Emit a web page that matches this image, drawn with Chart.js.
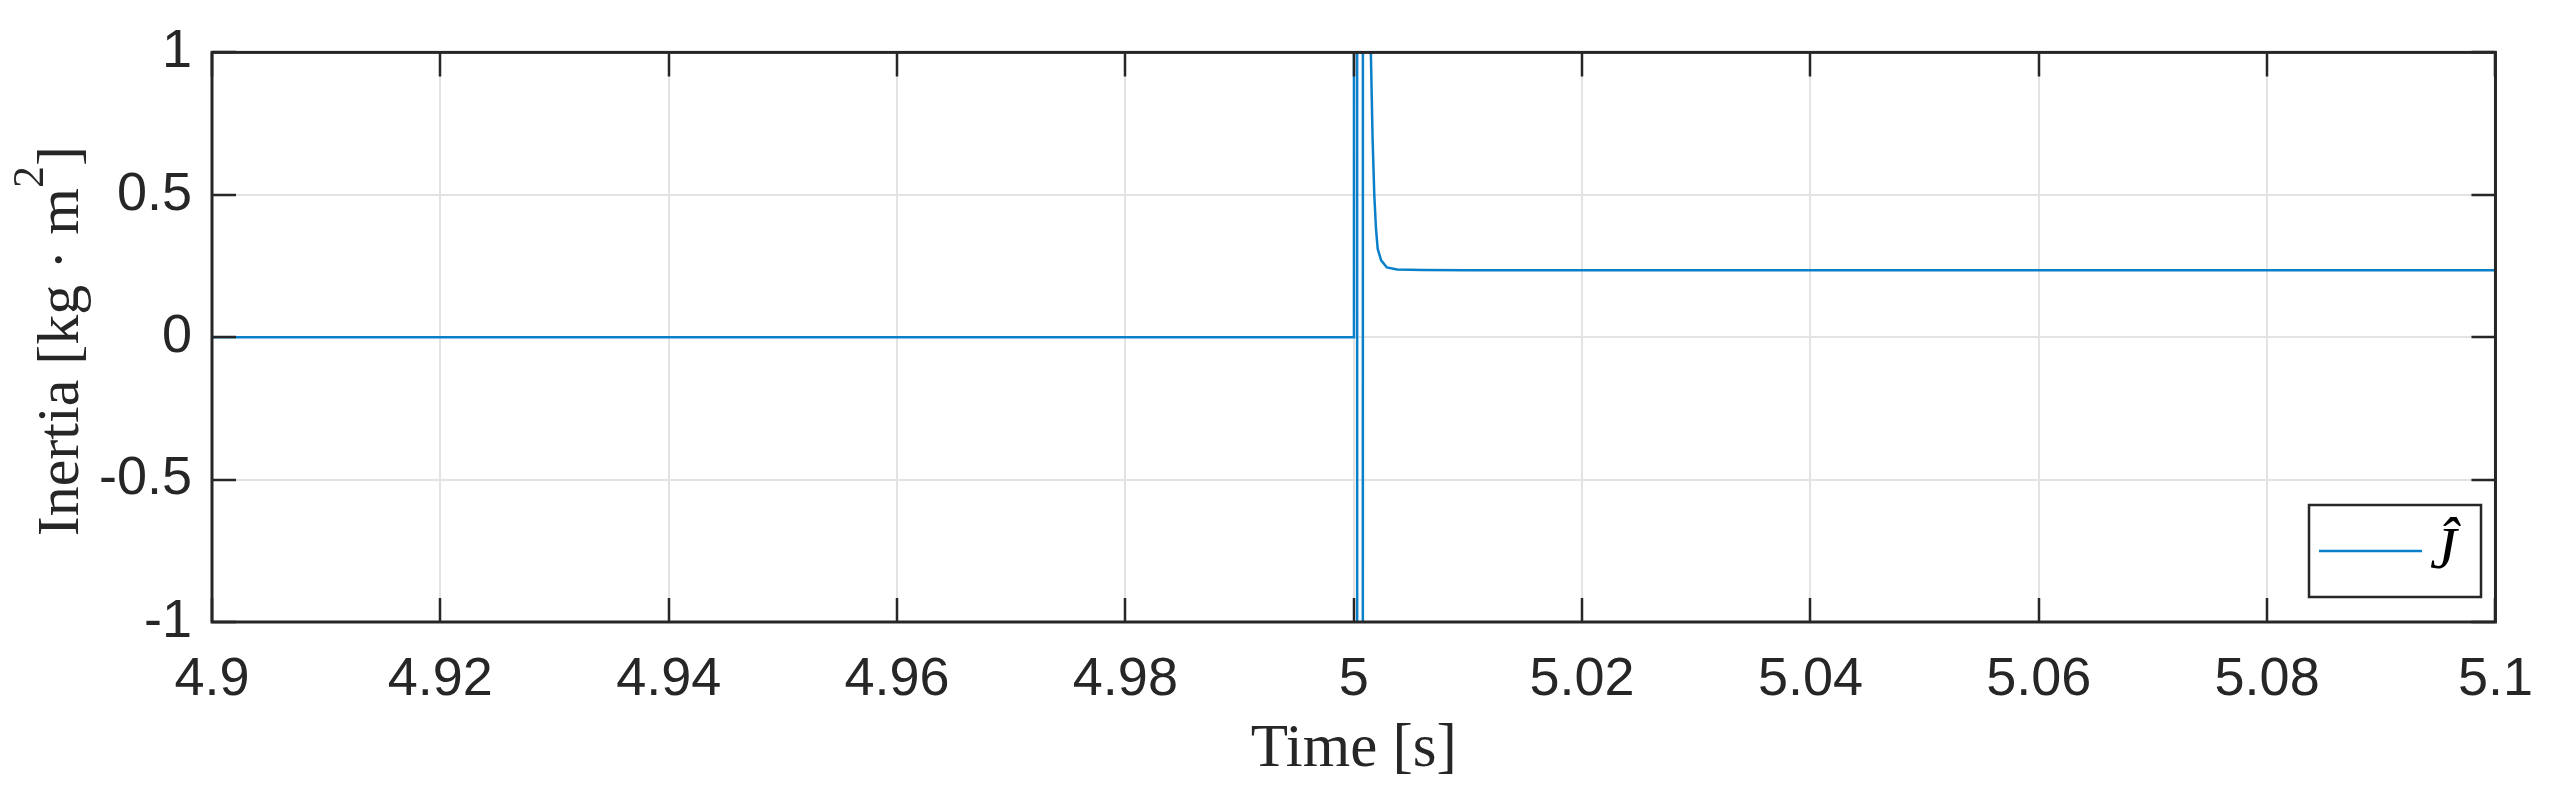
<!DOCTYPE html>
<html>
<head>
<meta charset="utf-8">
<script src="https://cdn.jsdelivr.net/npm/chart.js@4.4.0/dist/chart.umd.min.js"></script>
<style>
  html, body { margin: 0; padding: 0; background: #fff; }
  canvas { display: block; }
</style>
</head>
<body>
<canvas id="inertia" width="2559" height="795"></canvas>
<script>
// Estimated inertia response around the step at t = 5 s
const timeS = [4.9, 5.0, 5.00002, 5.00028, 5.00032, 5.00078, 5.00082, 5.00138,
  5.0015, 5.00165, 5.0018, 5.00195, 5.0021, 5.0024, 5.0029, 5.0038, 5.006, 5.01, 5.1];
const inertia = [0, 0, 9, 9, -9, -9, 9, 1.6,
  1.0, 0.70, 0.50, 0.38, 0.31, 0.27, 0.245, 0.238, 0.236, 0.235, 0.235];
const seriesLabel = "\u0134";
const xTitle = "Time [s]";
const yTitle = ["Inertia [kg \u00b7 m", "2", "]"];

const axisColor = "#262626";
const lineColor = "#0a7fca";

function getPoints(xs, ys) {
  var points = [];
  xs.forEach((x, i) => {
    points.push({x: x, y: ys[i]});
  });
  return points;
}

// box, inward ticks on all four sides, y title and legend (MATLAB look)
const matlabAxes = {
  id: "matlabAxes",
  afterDraw(chart) {
    const ctx = chart.ctx;
    const area = chart.chartArea;
    const xs = chart.scales.x;
    const ys = chart.scales.y;
    const tickLen = 24;
    ctx.save();
    ctx.strokeStyle = axisColor;
    ctx.lineWidth = 2.5;
    ctx.beginPath();
    xs.ticks.forEach((t) => {
      const px = Math.round(xs.getPixelForValue(t.value));
      ctx.moveTo(px, area.bottom); ctx.lineTo(px, area.bottom - tickLen);
      ctx.moveTo(px, area.top); ctx.lineTo(px, area.top + tickLen);
    });
    ys.ticks.forEach((t) => {
      const py = Math.round(ys.getPixelForValue(t.value));
      ctx.moveTo(area.left, py); ctx.lineTo(area.left + tickLen, py);
      ctx.moveTo(area.right, py); ctx.lineTo(area.right - tickLen, py);
    });
    ctx.stroke();
    ctx.lineWidth = 3;
    ctx.strokeRect(area.left, area.top, area.right - area.left, area.bottom - area.top);

    // y title with superscript
    const big = '60px "Liberation Serif"';
    const small = '44px "Liberation Serif"';
    ctx.font = big;
    const w0 = ctx.measureText(yTitle[0]).width;
    const w2 = ctx.measureText(yTitle[2]).width;
    ctx.font = small;
    const w1 = ctx.measureText(yTitle[1]).width;
    const total = w0 + w1 + w2;
    ctx.translate(78, (area.top + area.bottom) / 2 + 4);
    ctx.rotate(-Math.PI / 2);
    ctx.fillStyle = axisColor;
    ctx.textBaseline = "alphabetic";
    ctx.textAlign = "left";
    let pos = -total / 2;
    ctx.font = big;
    ctx.fillText(yTitle[0], pos, 0);
    pos += w0;
    ctx.font = small;
    ctx.fillText(yTitle[1], pos, -35);
    pos += w1;
    ctx.font = big;
    ctx.fillText(yTitle[2], pos, 0);
    ctx.restore();

    // legend box
    const ds = chart.data.datasets[0];
    ctx.save();
    ctx.fillStyle = "#ffffff";
    ctx.fillRect(2309, 505, 172, 92);
    ctx.strokeStyle = axisColor;
    ctx.lineWidth = 2.5;
    ctx.strokeRect(2309, 505, 172, 92);
    ctx.strokeStyle = ds.borderColor;
    ctx.lineWidth = ds.borderWidth;
    ctx.beginPath();
    ctx.moveTo(2319, 551);
    ctx.lineTo(2422, 551);
    ctx.stroke();
    ctx.fillStyle = "#000000";
    ctx.font = 'italic 60px "Liberation Serif"';
    ctx.textBaseline = "alphabetic";
    ctx.fillText(ds.label, 2430, 568);
    ctx.restore();
  }
};

var ctx = document.getElementById("inertia");
var theChart = new Chart(ctx, {
  type: "line",
  data: {
    datasets: [{
      label: seriesLabel,
      data: getPoints(timeS, inertia),
      borderColor: lineColor,
      borderWidth: 2.5,
      pointRadius: 0,
      tension: 0,
      fill: false
    }]
  },
  plugins: [matlabAxes],
  options: {
    responsive: false,
    animation: false,
    devicePixelRatio: 1,
    layout: {
      padding: {left: 0, top: 42, right: 52, bottom: 0}
    },
    plugins: {
      legend: {display: false},
      tooltip: {enabled: false}
    },
    scales: {
      x: {
        type: "linear",
        min: 4.9,
        max: 5.1,
        afterFit: (scale) => { scale.height = 173; },
        grid: {color: "#e3e3e3", lineWidth: 2, drawTicks: false},
        border: {display: false},
        ticks: {
          stepSize: 0.02,
          padding: 26,
          color: axisColor,
          font: {family: "Liberation Sans", size: 54},
          maxRotation: 0,
          callback: (v) => String(parseFloat(Number(v).toFixed(2)))
        },
        title: {
          display: true,
          text: xTitle,
          color: axisColor,
          font: {family: "Liberation Serif", size: 61},
          padding: {top: 0, bottom: 8}
        }
      },
      y: {
        type: "linear",
        min: -1,
        max: 1,
        afterFit: (scale) => { scale.width = 212; },
        grid: {color: "#e3e3e3", lineWidth: 2, drawTicks: false},
        border: {display: false},
        ticks: {
          stepSize: 0.5,
          padding: 20,
          color: axisColor,
          font: {family: "Liberation Sans", size: 54},
          callback: (v) => String(parseFloat(Number(v).toFixed(2)))
        }
      }
    }
  }
});
</script>
</body>
</html>
